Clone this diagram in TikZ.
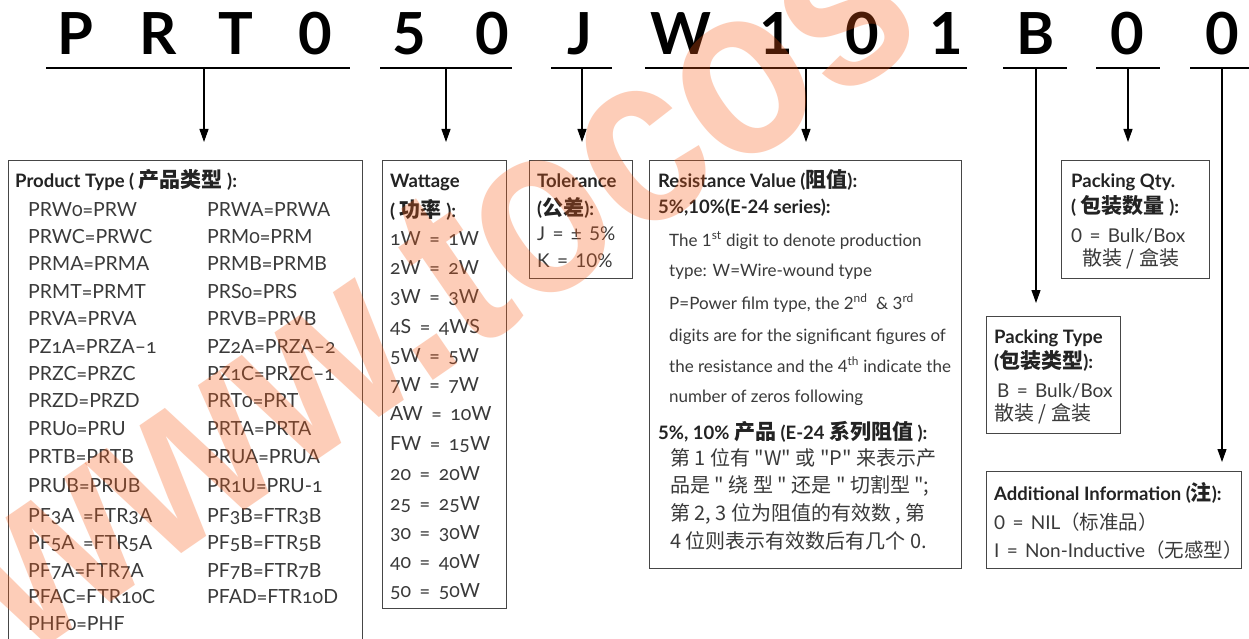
\documentclass[tikz,border=0pt]{standalone}
\usepackage{fontspec}
\setmainfont{Lato}
\newfontfamily\osf{Lato}[Numbers=OldStyle,WordSpace=1.7]
\newfontfamily\wsf{Lato}[WordSpace=1.5]
\newfontfamily\cjk{Noto Sans CJK SC}
\newfontfamily\wmfont{Liberation Sans}
\usetikzlibrary{arrows.meta}
\definecolor{tg}{RGB}{58,58,58}
\definecolor{hdc}{RGB}{35,35,35}
\definecolor{bx}{RGB}{70,70,70}
\definecolor{wm}{RGB}{250,90,20}
\newcommand\myBody{\fontsize{17}{21}\selectfont}
\newcommand\myList{\fontsize{19.5}{21}\selectfont}
\newcommand\myShort{\fontsize{19}{21}\selectfont}
\newcommand\myHead{\fontsize{18.5}{21}\selectfont\bfseries}
\newcommand\myCjk{\cjk\fontsize{20}{22}\selectfont}
\newcommand\myBig{\fontsize{58}{60}\selectfont\bfseries}
\newcommand\zh[1]{{\cjk\fontsize{21}{22}\selectfont #1}}
\newcommand\zt[1]{{\cjk\fontsize{19.5}{22}\selectfont #1}}
\begin{document}
\begin{tikzpicture}[x=1pt,y=-1pt,
  box/.style={draw=bx,line width=1.3pt,inner sep=0pt,anchor=north west},
  tx/.style={anchor=base west,inner sep=0pt,text=tg,font=\myBody},
  sh/.style={anchor=base west,inner sep=0pt,text=tg,font=\wsf\myShort},
  os/.style={anchor=base west,inner sep=0pt,text=tg,font=\osf\myList},
  hd/.style={anchor=base west,inner sep=0pt,text=hdc,font=\myHead},
  zc/.style={anchor=base west,inner sep=0pt,text=tg,font=\myCjk},
  big/.style={anchor=base,inner sep=0pt,text=black,font=\myBig},
  uline/.style={line width=2.3pt,black},
  arr/.style={line width=1.1pt,black,-{Triangle[length=13pt,width=9pt]}}]
\useasboundingbox (0,0) rectangle (1249,639);
\fill[white] (0,0) rectangle (1249,639);
\clip (0,0) rectangle (1249,639);

% code letters
\foreach \ch/\x/\n in {P/75/k1,R/158/k2,T/236/k3,0/315/k4,5/409/k5,0/492/k6,J/580/k7,W/681/k8,1/776/k9,0/862/k10,1/946/k11,B/1036/k12,0/1127/k13,0/1222/k14}
  \node[big] (\n) at (\x,55) {\ch};

% underlines
\draw[uline] (46,68) -- (350,68);
\draw[uline] (380,68) -- (512,68);
\draw[uline] (551,68) -- (612,68);
\draw[uline] (645,68) -- (967,68);
\draw[uline] (1003,68) -- (1067,68);
\draw[uline] (1096,68) -- (1160,68);
\draw[uline] (1190,68) -- (1252,68);
\coordinate (u1) at (204,68);
\coordinate (u2) at (446,68);
\coordinate (u3) at (582,68);
\coordinate (u4) at (806,68);
\coordinate (u5) at (1036,68);
\coordinate (u6) at (1128,68);
\coordinate (u7) at (1222,68);

% boxes
\node[box,minimum width=354pt,minimum height=520pt] (ptb) at (8,160) {};
\node[box,minimum width=124pt,minimum height=448pt] (wat) at (382,160) {};
\node[box,minimum width=103pt,minimum height=118pt] (tol) at (529,160) {};
\node[box,minimum width=312pt,minimum height=408pt] (res) at (649,160) {};
\node[box,minimum width=148pt,minimum height=118pt] (pqt) at (1061,160) {};
\node[box,minimum width=134pt,minimum height=117pt] (pty) at (986,316) {};
\node[box,minimum width=255pt,minimum height=97pt] (add) at (986,471) {};

% arrows
\draw[arr,shorten >=18pt] (u1) -- (u1 |- ptb.north);
\draw[arr,shorten >=18pt] (u2) -- (u2 |- wat.north);
\draw[arr,shorten >=18pt] (u3) -- (u3 |- tol.north);
\draw[arr,shorten >=18pt] (u4) -- (u4 |- res.north);
\draw[arr,shorten >=13pt] (u5) -- (u5 |- pty.north);
\draw[arr,shorten >=18pt] (u6) -- (u6 |- pqt.north);
\draw[arr,shorten >=9pt] (u7) -- (u7 |- add.north);

% product type
\node[hd] (ptt) at (15,187) {Product Type ( \zh{产品类型} ):};
\foreach \y/\a/\b [count=\i] in {216/PRW0=PRW/PRWA=PRWA,243/PRWC=PRWC/PRM0=PRM,270/PRMA=PRMA/PRMB=PRMB,298/PRMT=PRMT/PRS0=PRS,325/PRVA=PRVA/PRVB=PRVB,353/PZ1A=PRZA\textendash 1/PZ2A=PRZA\textendash 2,380/PRZC=PRZC/PZ1C=PRZC\textendash 1,407/PRZD=PRZD/PRT0=PRT,435/PRU0=PRU/PRTA=PRTA,463/PRTB=PRTB/PRUA=PRUA,492/PRUB=PRUB/PR1U=PRU-1,522/PF3A =FTR3A/PF3B=FTR3B,549/PF5A =FTR5A/PF5B=FTR5B,577/PF7A=FTR7A/PF7B=FTR7B,603/PFAC=FTR10C/PFAD=FTR10D}
{
  \node[os] (pa\i) at (28,\y) {\a};
  \node[os] (pb\i) at (207,\y) {\b};
}
\node[os] (pa16) at (28,630) {PHF0=PHF};

% wattage
\node[hd] (wt1) at (390,187) {Wattage};
\node[hd] (wt2) at (390,217) {( \zh{功率} ):};
\foreach \y/\a [count=\i] in {245/1W = 1W,274/2W = 2W,303/3W = 3W,333/4S = 4WS,362/5W = 5W,391/7W = 7W,420/AW = 10W,450/FW = 15W,480/20 = 20W,510/25 = 25W,539/30 = 30W,568/40 = 40W,597/50 = 50W}
  \node[os] (w\i) at (390,\y) {\a};

% tolerance
\node[hd] (to1) at (537,187) {Tolerance};
\node[hd] (to2) at (537,215) {(\zh{公差}):};
\node[sh] (to3) at (537,240) {J = ± 5\%};
\node[sh] (to4) at (537,267) {K = 10\%};

% resistance
\node[hd] (r1) at (658,187) {Resistance Value (\zh{阻值}):};
\node[hd] (r2) at (658,213) {5\%,10\%(E-24 series):};
\node[tx] (r3) at (669,246) {The 1\textsuperscript{st} digit to denote production};
\node[tx] (r4) at (669,276) {type: W=Wire-wound type};
\node[tx] (r5) at (669,309) {P=Power film type, the 2\textsuperscript{nd}\ \ \& 3\textsuperscript{rd}};
\node[tx] (r6) at (669,341) {digits are for the significant figures of};
\node[tx] (r7) at (669,372) {the resistance and the 4\textsuperscript{th} indicate the};
\node[tx] (r8) at (669,402) {number of zeros following};
\node[hd] (r9) at (658,439) {5\%, 10\% \zh{产品} (E-24 \zh{系列阻值} ):};
\node[zc] (r10) at (670,465) {第 1 位有 "W" 或 "P" 来表示产};
\node[zc] (r11) at (670,492) {品是 " 绕 型 " 还是 " 切割型 ";};
\node[zc] (r12) at (670,520) {第 2, 3 位为阻值的有效数 , 第};
\node[zc] (r13) at (670,548) {4 位则表示有效数后有几个 0.};

% packing qty
\node[hd] (q1) at (1071,188) {Packing Qty.};
\node[hd] (q2) at (1071,213) {( \zh{包装数量} ):};
\node[sh] (q3) at (1071,242) {0 = Bulk/Box};
\node[zc] (q4) at (1082,265) {散装 / 盒装};

% packing type
\node[hd] (y1) at (994,343) {Packing Type};
\node[hd] (y2) at (994,368) {(\zh{包装类型}):};
\node[sh] (y3) at (997,397) {B = Bulk/Box};
\node[zc] (y4) at (994,420) {散装 / 盒装};

% additional
\node[hd] (a1) at (994,500) {Additional Information (\zh{注}):};
\node[sh] (a2) at (994,529) {0 = NIL\zt{（标准品）}};
\node[sh] (a3) at (994,557) {I = Non-Inductive\zt{（无感型）}};

% watermark
\node[anchor=base west,rotate=34.5,inner sep=0pt,text=wm,text opacity=0.3,font=\wmfont\bfseries\fontsize{244}{244}\selectfont] (wmk) at (24,662) {\scalebox{0.86}[1]{www.tocos}};
\end{tikzpicture}
\end{document}
